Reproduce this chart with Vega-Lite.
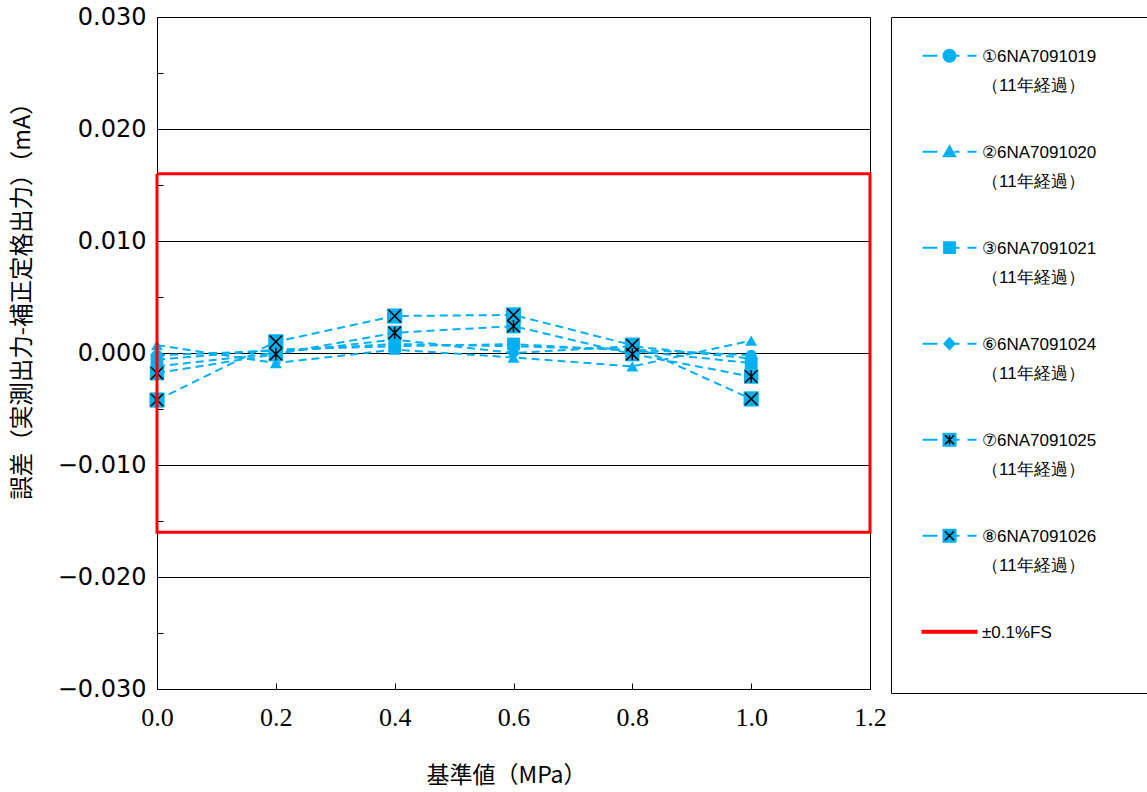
{
  "$schema": "https://vega.github.io/schema/vega-lite/v6.json",
  "width": 713,
  "height": 672,
  "autosize": {"type": "none"},
  "padding": {"left": 157, "top": 17, "right": 277, "bottom": 103},
  "background": "white",
  "config": {
    "view": {"stroke": "black", "strokeWidth": 1},
    "axis": {"domainColor": "black", "tickColor": "black", "labelColor": "black", "titleColor": "black"},
    "style": {"guide-label": {"lineHeight": 29}},
    "legend": {"orient": "none", "legendX": 734, "legendY": 0, "padding": 23, "rowPadding": 42,
      "symbolSize": 144, "symbolOffset": 27, "symbolOpacity": 1,
      "labelFont": "Liberation Sans", "labelFontSize": 17, "labelBaseline": "top",
      "labelOffset": 24, "labelLimit": 500}
  },
  "data": {"values": [
    {"s": "①6NA7091019", "x": 0, "y": -0.0002},
    {"s": "①6NA7091019", "x": 0.2, "y": 0.0002},
    {"s": "①6NA7091019", "x": 0.4, "y": 0.0008},
    {"s": "①6NA7091019", "x": 0.6, "y": 0.0006},
    {"s": "①6NA7091019", "x": 0.8, "y": 0.0003},
    {"s": "①6NA7091019", "x": 1.0, "y": -0.0002},
    {"s": "②6NA7091020", "x": 0, "y": 0.0007},
    {"s": "②6NA7091020", "x": 0.2, "y": -0.0009},
    {"s": "②6NA7091020", "x": 0.4, "y": 0.0003},
    {"s": "②6NA7091020", "x": 0.6, "y": -0.0004},
    {"s": "②6NA7091020", "x": 0.8, "y": -0.0012},
    {"s": "②6NA7091020", "x": 1.0, "y": 0.0011},
    {"s": "③6NA7091021", "x": 0, "y": -0.0006},
    {"s": "③6NA7091021", "x": 0.2, "y": 0.0003},
    {"s": "③6NA7091021", "x": 0.4, "y": 0.0006},
    {"s": "③6NA7091021", "x": 0.6, "y": 0.0008},
    {"s": "③6NA7091021", "x": 0.8, "y": 0.0002},
    {"s": "③6NA7091021", "x": 1.0, "y": -0.0009},
    {"s": "⑥6NA7091024", "x": 0, "y": -0.0012},
    {"s": "⑥6NA7091024", "x": 0.2, "y": 0.0},
    {"s": "⑥6NA7091024", "x": 0.4, "y": 0.0012},
    {"s": "⑥6NA7091024", "x": 0.6, "y": 0.0},
    {"s": "⑥6NA7091024", "x": 0.8, "y": 0.0006},
    {"s": "⑥6NA7091024", "x": 1.0, "y": -0.0005},
    {"s": "⑦6NA7091025", "x": 0, "y": -0.0018},
    {"s": "⑦6NA7091025", "x": 0.2, "y": -0.0001},
    {"s": "⑦6NA7091025", "x": 0.4, "y": 0.0018},
    {"s": "⑦6NA7091025", "x": 0.6, "y": 0.0024},
    {"s": "⑦6NA7091025", "x": 0.8, "y": -0.0001},
    {"s": "⑦6NA7091025", "x": 1.0, "y": -0.0021},
    {"s": "⑧6NA7091026", "x": 0, "y": -0.0042},
    {"s": "⑧6NA7091026", "x": 0.2, "y": 0.001},
    {"s": "⑧6NA7091026", "x": 0.4, "y": 0.0033},
    {"s": "⑧6NA7091026", "x": 0.6, "y": 0.0034},
    {"s": "⑧6NA7091026", "x": 0.8, "y": 0.0007},
    {"s": "⑧6NA7091026", "x": 1.0, "y": -0.0041}
  ]},
  "encoding": {
    "x": {
      "field": "x", "type": "quantitative",
      "scale": {"domain": [0, 1.2], "nice": false, "zero": false},
      "axis": {
        "values": [0, 0.2, 0.4, 0.6, 0.8, 1.0, 1.2],
        "format": ".1f", "labelFlush": false, "labelOverlap": false,
        "labelFont": "Liberation Sans Narrow", "labelFontSize": 26, "labelPadding": 21,
        "tickSize": -6, "grid": false,
        "title": "基準値（MPa）", "titleFont": "Noto Sans CJK JP", "titleFontSize": 23,
        "titleFontWeight": "normal", "titleX": 349, "titleY": 86, "titleBaseline": "middle"
      }
    },
    "y": {
      "field": "y", "type": "quantitative",
      "scale": {"domain": [-0.03, 0.03], "nice": false, "zero": false},
      "axis": {
        "values": [-0.03, -0.025, -0.02, -0.015, -0.01, -0.005, 0, 0.005, 0.01, 0.015, 0.02, 0.025, 0.03],
        "format": ".3f",
        "labelExpr": "abs(datum.value*100 - round(datum.value*100)) < 0.01 ? datum.label : ''",
        "labelOverlap": false, "labelFont": "DejaVu Sans", "labelFontSize": 24, "labelPadding": 17,
        "tickSize": -6,
        "grid": true, "gridColor": "black", "gridWidth": 1,
        "gridOpacity": {"condition": {"test": "abs(datum.value*100 - round(datum.value*100)) < 0.01", "value": 1}, "value": 0},
        "title": "誤差（実測出力-補正定格出力）（mA）", "titleFont": "Noto Sans CJK JP", "titleFontSize": 23.5,
        "titleFontWeight": "normal", "titleX": -135, "titleY": 278, "titleBaseline": "middle", "titleAlign": "center"
      }
    }
  },
  "layer": [
    {
      "mark": {"type": "line", "color": "#00B0F0", "strokeWidth": 2, "strokeDash": [8, 5]},
      "encoding": {"detail": {"field": "s", "type": "nominal"}}
    },
    {
      "mark": {"type": "point", "filled": true, "color": "#00B0F0", "opacity": 1},
      "encoding": {
        "shape": {"field": "s", "type": "nominal",
          "scale": {"domain": ["①6NA7091019", "②6NA7091020", "③6NA7091021", "⑥6NA7091024", "⑦6NA7091025", "⑧6NA7091026"],
                    "range": ["circle", "triangle-up", "square", "diamond", "square", "square"]},
          "legend": null},
        "size": {"field": "s", "type": "nominal",
          "scale": {"domain": ["①6NA7091019", "②6NA7091020", "③6NA7091021", "⑥6NA7091024", "⑦6NA7091025", "⑧6NA7091026"],
                    "range": [120, 230, 170, 110, 240, 240]},
          "legend": null}
      }
    },
    {
      "transform": [{"filter": "datum.s === '⑦6NA7091025'"}],
      "mark": {"type": "point", "shape": "M-0.8,-0.8L0.8,0.8M-0.8,0.8L0.8,-0.8M0,-0.8L0,0.8", "size": 240,
               "filled": false, "stroke": "black", "strokeWidth": 1.5, "opacity": 1}
    },
    {
      "transform": [{"filter": "datum.s === '⑧6NA7091026'"}],
      "mark": {"type": "point", "shape": "M-0.8,-0.8L0.8,0.8M-0.8,0.8L0.8,-0.8", "size": 240,
               "filled": false, "stroke": "black", "strokeWidth": 1.5, "opacity": 1}
    },
    {
      "data": {"values": [
        {"x": 0, "y": 0.016, "o": 1},
        {"x": 1.2, "y": 0.016, "o": 2},
        {"x": 1.2, "y": -0.016, "o": 3},
        {"x": 0, "y": -0.016, "o": 4},
        {"x": 0, "y": 0.016, "o": 5}
      ]},
      "mark": {"type": "line", "color": "#FF0000", "strokeWidth": 3},
      "encoding": {"order": {"field": "o", "type": "quantitative"}}
    },
    {
      "transform": [{"filter": "false"}],
      "mark": {"type": "point", "filled": true, "opacity": 1, "strokeWidth": 2},
      "encoding": {
        "shape": {"field": "s", "type": "nominal",
          "scale": {"domain": ["①6NA7091019", "②6NA7091020", "③6NA7091021", "⑥6NA7091024", "⑦6NA7091025", "⑧6NA7091026", "±0.1%FS"],
            "range": [
              "M-4.5,0M4.5,2.4M-4.5,1.2L-2,1.2M0.83,1.2L1.67,1.2M3,1.2L4.5,1.2M-1,1.2A1,1 0 1,0 1,1.2A1,1 0 1,0 -1,1.2Z",
              "M-4.5,0M4.5,2.4M-4.5,1.2L-2,1.2M0.83,1.2L1.67,1.2M3,1.2L4.5,1.2M0,0.3L0.95,1.95L-0.95,1.95Z",
              "M-4.5,0M4.5,2.4M-4.5,1.2L-2,1.2M0.83,1.2L1.67,1.2M3,1.2L4.5,1.2M-0.9,0.3L0.9,0.3L0.9,2.1L-0.9,2.1Z",
              "M-4.5,0M4.5,2.4M-4.5,1.2L-2,1.2M0.83,1.2L1.67,1.2M3,1.2L4.5,1.2M0,0.3L0.85,1.2L0,2.1L-0.85,1.2Z",
              "M-4.5,0M4.5,2.4M-4.5,1.2L-2,1.2M0.83,1.2L1.67,1.2M3,1.2L4.5,1.2M-1,0.2L1,0.2L1,2.2L-1,2.2Z",
              "M-4.5,0M4.5,2.4M-4.5,1.2L-2,1.2M0.83,1.2L1.67,1.2M3,1.2L4.5,1.2M-1,0.2L1,0.2L1,2.2L-1,2.2Z",
              "M-4.5,0M4.5,2.4M-4.5,1.03L4.5,1.03L4.5,1.37L-4.5,1.37Z"
            ]},
          "legend": {"title": null, "symbolStrokeWidth": 2, "labelColor": "black",
            "labelFont": "Liberation Sans", "labelFontSize": 17,
            "labelExpr": "datum.value === '±0.1%FS' ? ['±0.1%FS', ''] : [datum.value + '\u2800\u2800\u2800', '（11年経過）']",
            "strokeColor": "black", "fillColor": "white"}},
        "fill": {"field": "s", "type": "nominal",
          "scale": {"domain": ["①6NA7091019", "②6NA7091020", "③6NA7091021", "⑥6NA7091024", "⑦6NA7091025", "⑧6NA7091026", "±0.1%FS"],
            "range": ["#00B0F0", "#00B0F0", "#00B0F0", "#00B0F0", "#00B0F0", "#00B0F0", "#FF0000"]},
          "legend": {"title": null, "symbolStrokeWidth": 2, "labelColor": "black",
            "labelFont": "Liberation Sans", "labelFontSize": 17,
            "labelExpr": "datum.value === '±0.1%FS' ? ['±0.1%FS', ''] : [datum.value + '\u2800\u2800\u2800', '（11年経過）']",
            "strokeColor": "black", "fillColor": "white"}},
        "stroke": {"field": "s", "type": "nominal",
          "scale": {"domain": ["①6NA7091019", "②6NA7091020", "③6NA7091021", "⑥6NA7091024", "⑦6NA7091025", "⑧6NA7091026", "±0.1%FS"],
            "range": ["#00B0F0", "#00B0F0", "#00B0F0", "#00B0F0", "#00B0F0", "#00B0F0", "#FF0000"]},
          "legend": {"title": null, "symbolStrokeWidth": 2, "labelColor": "black",
            "labelFont": "Liberation Sans", "labelFontSize": 17,
            "labelExpr": "datum.value === '±0.1%FS' ? ['±0.1%FS', ''] : [datum.value + '\u2800\u2800\u2800', '（11年経過）']",
            "strokeColor": "black", "fillColor": "white"}}
      }
    },
    {
      "transform": [{"filter": "false"}],
      "mark": {"type": "point", "filled": false, "opacity": 1, "stroke": "black", "strokeWidth": 1.5},
      "encoding": {
        "shape": {"field": "s", "type": "nominal",
          "scale": {"domain": ["①6NA7091019", "②6NA7091020", "③6NA7091021", "⑥6NA7091024", "⑦6NA7091025", "⑧6NA7091026", "±0.1%FS"],
            "range": [
              "M-4.5,0M4.5,2.4",
              "M-4.5,0M4.5,2.4",
              "M-4.5,0M4.5,2.4",
              "M-4.5,0M4.5,2.4",
              "M-4.5,0M4.5,2.4M-0.75,0.45L0.75,1.95M-0.75,1.95L0.75,0.45M0,0.45L0,1.95",
              "M-4.5,0M4.5,2.4M-0.75,0.45L0.75,1.95M-0.75,1.95L0.75,0.45",
              "M-4.5,0M4.5,2.4"
            ]},
          "legend": {"title": null, "symbolStrokeWidth": 1.5,
            "symbolStrokeColor": "black", "symbolFillColor": "transparent",
            "labelColor": "transparent", "labelFont": "Liberation Sans", "labelFontSize": 17,
            "labelExpr": "datum.value === '±0.1%FS' ? ['±0.1%FS', ''] : [datum.value + '\u2800\u2800\u2800', '（11年経過）']"}}
      }
    }
  ],
  "resolve": {"scale": {"shape": "independent", "fill": "independent", "stroke": "independent", "size": "independent"}}
}
